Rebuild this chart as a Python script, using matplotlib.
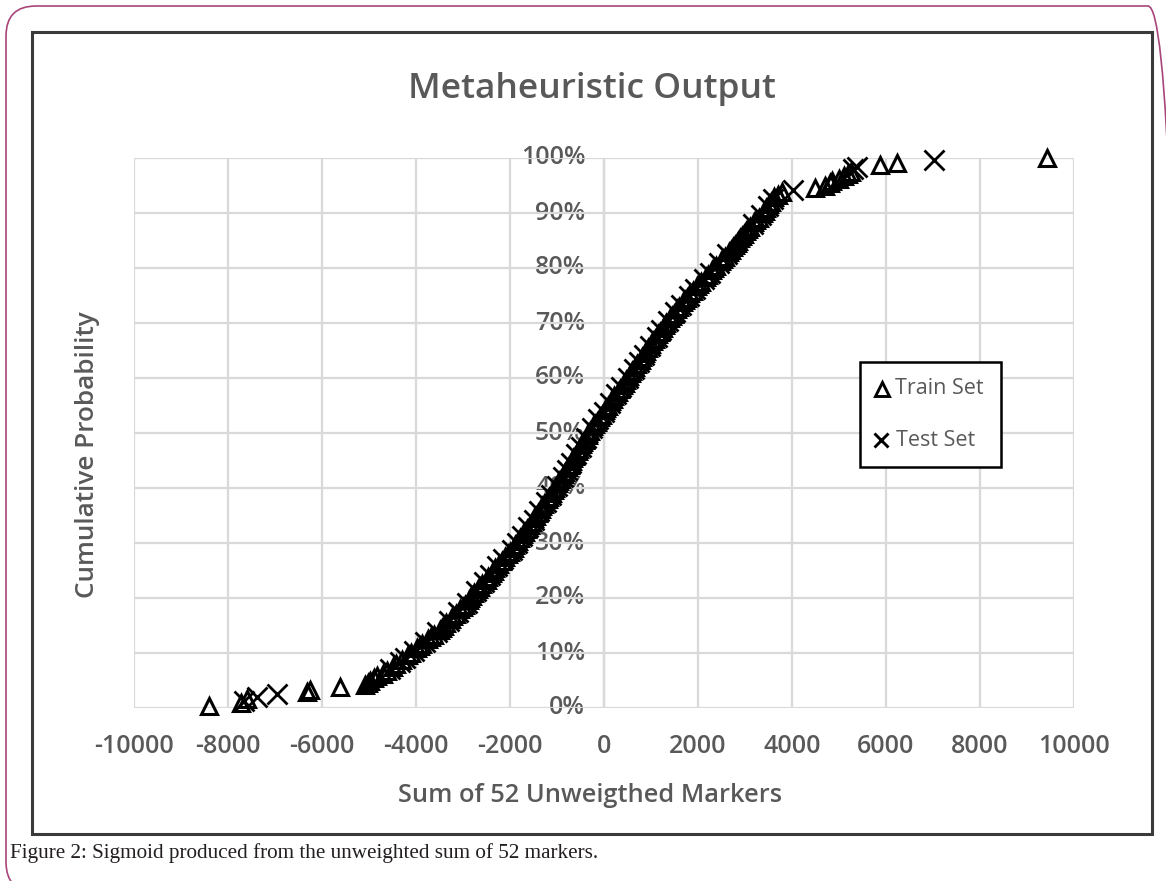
import numpy as np
import matplotlib
matplotlib.use("Agg")
import matplotlib.pyplot as plt
from matplotlib.patches import Rectangle, FancyBboxPatch
from matplotlib.lines import Line2D
from matplotlib.ticker import FuncFormatter

# Sum of the 52 unweighted markers for each sample
train_x = [
    -8400, -7720, -7600, -6320, -6250, -5620,
    -5080, -5020, -4980, -4900, -4820, -4700, -4620, -4480, -4420, -4300, -4180, -4100,
    -3980, -3920, -3880, -3740, -3680, -3620, -3500, -3450, -3400,
    -3360, -3260, -3210, -3150, -3060, -3010, -2960, -2880, -2850,
    -2810, -2770, -2680, -2640, -2590, -2500, -2470, -2390, -2350,
    -2310, -2230, -2180, -2100, -2050, -2010, -1920, -1890,
    -1820, -1780, -1720, -1680, -1640, -1570, -1540, -1480, -1450,
    -1410, -1350, -1310, -1270, -1200, -1170, -1100, -1070, -1040,
    -980, -950, -920, -850, -820, -760, -730, -680,
    -650, -620, -560, -530, -470, -440, -410, -350, -330,
    -300, -230, -190, -150, -80, -40, 20, 50, 80,
    150, 190, 220, 300, 330, 400, 440, 470,
    530, 570, 600, 670, 710, 780, 810, 880, 900,
    940, 1010, 1040, 1080, 1150, 1190, 1260, 1290, 1320,
    1400, 1440, 1480, 1560, 1600, 1680, 1720, 1760,
    1840, 1890, 1980, 2030, 2070, 2160, 2210, 2300, 2350,
    2390, 2480, 2530, 2570, 2660, 2700, 2740, 2780, 2820, 2850,
    2890, 2940, 2980, 3030, 3070, 3110, 3200, 3240, 3290, 3380,
    3430, 3450, 3520, 3560, 3620, 3700, 3790,
    4490, 4700, 4800, 4850, 5000, 5100, 5200, 5250, 5870, 6230, 9430,
]
test_x = [
    -7650, -7380, -6950, -4560, -4350, -4240, -4040, -3800, -3560, -3300,
    -3100, -2920, -2720, -2550, -2420, -2270, -2140, -1960, -1850, -1750,
    -1610, -1500, -1380, -1240, -1130, -1010, -880, -790, -710, -590,
    -500, -380, -260, -120, -10, 120, 260, 370, 500, 640,
    740, 850, 970, 1120, 1220, 1360, 1520, 1640, 1800, 1930,
    2120, 2250, 2440, 2620, 3160, 3330, 3480, 3590, 4020, 5300,
    5380, 7020,
]
series_names = ["Train Set", "Test Set"]
x_ticks = [-10000, -8000, -6000, -4000, -2000, 0, 2000, 4000, 6000, 8000, 10000]
y_ticks = [0.0, 0.1, 0.2, 0.3, 0.4, 0.5, 0.6, 0.7, 0.8, 0.9, 1.0]

# Cumulative probability over the pooled samples
pooled = np.sort(np.concatenate([train_x, test_x]))
n_total = len(pooled)
def cum_prob(values):
    return np.searchsorted(pooled, values, side="right") / n_total

train_y = cum_prob(np.array(train_x))
test_y = cum_prob(np.array(test_x))

W, H = 1166, 881
fig = plt.figure(figsize=(W / 100, H / 100), dpi=100)
fig.patch.set_facecolor("white")

def fx(px):
    return px / W
def fy(py):
    return 1 - py / H

# Rounded page border; mutation_aspect keeps the corner radius circular in pixels
corner = 30
fig.patches.append(FancyBboxPatch((fx(6), fy(892)), fx(1178) - fx(6), fy(6) - fy(892),
                                  boxstyle=f"round,pad=0,rounding_size={corner / W}",
                                  mutation_aspect=W / H,
                                  transform=fig.transFigure, fill=False,
                                  edgecolor="#a8457a", linewidth=1.2, zorder=0))
# Chart frame
fig.patches.append(Rectangle((fx(32), fy(834)), fx(1152) - fx(32), fy(32) - fy(834),
                             transform=fig.transFigure, fill=False,
                             edgecolor="#3a3a3a", linewidth=2.2, zorder=1))

ax = fig.add_axes([fx(134), fy(708), fx(1074) - fx(134), fy(158) - fy(708)])
ax.set_xlim(-10000, 10000)
ax.set_ylim(0, 1)
for s in ax.spines.values():
    s.set_visible(False)
ax.set_xticks(x_ticks)
ax.set_yticks(y_ticks)
ax.grid(True, color="#d9d9d9", linewidth=1.6, zorder=0)
ax.tick_params(length=0)
ax.axvline(0, color="#bfbfbf", linewidth=1.6, zorder=0.5)

grey = "#595959"
font = "Open Sans"
ax.set_yticklabels([])
ax.xaxis.set_major_formatter(FuncFormatter(lambda v, p: f"{int(v)}"))
for lab in ax.get_xticklabels():
    lab.set_fontfamily(font)
    lab.set_fontsize(18)
    lab.set_color(grey)
    lab.set_fontweight("semibold")
ax.tick_params(axis="x", pad=19)

# Percent labels sit beside the vertical axis at x = 0
for v in y_ticks:
    ax.annotate(f"{int(round(v * 100))}%", xy=(0, v), xytext=(-13.5, 0),
                textcoords="offset points", ha="right", va="center",
                fontsize=18, color=grey, fontfamily=font, fontweight="semibold",
                zorder=1)

ax.plot(train_x, train_y, linestyle="none", marker="^", markersize=11.5,
        markerfacecolor="none", markeredgecolor="black", markeredgewidth=2.2,
        label=series_names[0], zorder=3, clip_on=False)
ax.plot(test_x, test_y, linestyle="none", marker="x", markersize=15,
        markeredgecolor="black", markeredgewidth=2.0,
        label=series_names[1], zorder=4, clip_on=False)

# Legend box with marker keys
fig.patches.append(Rectangle((fx(860), fy(467)), fx(1001) - fx(860), fy(362) - fy(467),
                             transform=fig.transFigure, facecolor="white",
                             edgecolor="black", linewidth=1.8, zorder=5))
fig.lines.append(Line2D([fx(882)], [fy(389)], transform=fig.transFigure, marker="^",
                        markersize=9.5, markerfacecolor="none", markeredgecolor="black",
                        markeredgewidth=2.1, linestyle="none", zorder=6))
fig.lines.append(Line2D([fx(881)], [fy(440)], transform=fig.transFigure, marker="x",
                        markersize=9.5, markeredgecolor="black", markeredgewidth=2.1,
                        linestyle="none", zorder=6))
fig.text(fx(895), fy(388), series_names[0], ha="left", va="center", fontsize=15.5,
         color=grey, fontfamily=font, zorder=6)
fig.text(fx(896), fy(440), series_names[1], ha="left", va="center", fontsize=15.5,
         color=grey, fontfamily=font, zorder=6)

fig.text(fx(592), fy(89), "Metaheuristic Output", ha="center", va="center",
         fontsize=25.5, fontweight="semibold", color=grey, fontfamily=font)
fig.text(fx(590), fy(796), "Sum of 52 Unweigthed Markers", ha="center", va="center",
         fontsize=18.3, fontweight="semibold", color=grey, fontfamily=font)
fig.text(fx(88), fy(455), "Cumulative Probability", ha="center", va="center",
         rotation=90, fontsize=18.8, fontweight="semibold", color=grey, fontfamily=font)

fig.text(fx(10), fy(853), "Figure 2: Sigmoid produced from the unweighted sum of 52 markers.",
         ha="left", va="center", fontsize=15.2, color="#231f20", fontfamily="Liberation Serif")

fig.savefig("out.png", dpi=100)
